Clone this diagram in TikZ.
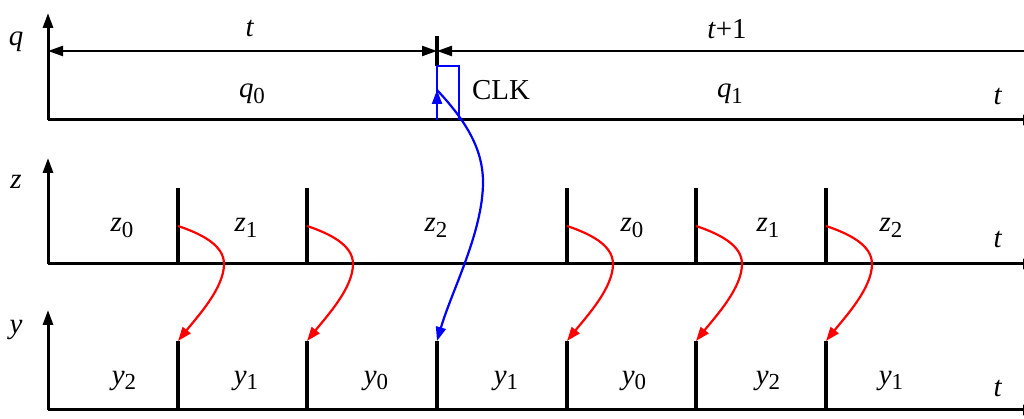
\documentclass[tikz,border=0pt]{standalone}
\usepackage{fontspec}
\setmainfont{Liberation Serif}
\usetikzlibrary{arrows.meta,calc}
\newcommand{\sig}[2]{\textit{#1}\raisebox{-0.4ex}{\fontsize{11.5}{12}\selectfont #2}}
\tikzset{
  axis/.style={line width=1.5bp,-{Triangle[length=7.5bp,width=5bp]}},
  tickline/.style={line width=1.6bp},
  dimline/.style={line width=1.1bp},
  redarr/.style={red,line width=1.1bp,-{Triangle[length=7bp,width=5bp]}},
  bluearr/.style={blue,line width=1.1bp,-{Triangle[length=7bp,width=5bp]}},
  lbl/.style={font=\fontsize{14.5}{16}\selectfont,inner sep=0pt}
}
\begin{document}
\begin{tikzpicture}[x=0.5bp,y=-0.5bp]
  \clip (0,0) rectangle (1024,419);

  % q axis
  \coordinate (qo) at (48,120);
  \coordinate (qy) at (48,13);
  \coordinate (qx) at (1038,120);
  \draw[axis] (qo) -- (qy);
  \draw[axis] (qo) -- (qx);
  \node[lbl] (lq) at (16,42) {\textit{q}};
  \node[lbl] (lqt) at (998,97) {\textit{t}};

  % interval arrows
  \coordinate (dl) at (48,51);
  \coordinate (dm) at (437,51);
  \coordinate (dr) at (1040,51);
  \draw[dimline,{Triangle[length=7.5bp,width=5bp]}-{Triangle[length=7.5bp,width=5bp]}] (dl) -- (dm);
  \draw[dimline,{Triangle[length=7.5bp,width=5bp]}-] (dm) -- (dr);
  \node[lbl] (lt) at (250,29) {\textit{t}};
  \node[lbl] (lt1) at (727,29) {\textit{t}+1};
  \node[lbl] (lq0) at (252,94) {\sig{q}{0}};
  \node[lbl] (lq1) at (730,94) {\sig{q}{1}};

  % clock pulse
  \coordinate (ck0) at (437,36);
  \coordinate (ck1) at (437,66);
  \coordinate (cb) at (437,120);
  \coordinate (ca) at (437,90);
  \coordinate (cr) at (459,120);
  \draw[tickline] (ck0) -- (ck1);
  \draw[blue,line width=1.3bp] (cb) -- (ck1) -| (cr);
  \draw[bluearr] (cb) -- (ca);
  \node[lbl] (lclk) at (501,90) {CLK};

  % z axis
  \coordinate (zo) at (48,264);
  \coordinate (zy) at (48,158);
  \coordinate (zx) at (1038,264);
  \draw[axis] (zo) -- (zy);
  \draw[axis] (zo) -- (zx);
  \node[lbl] (lz) at (16,182) {\textit{z}};
  \node[lbl] (lzt) at (998,240) {\textit{t}};
  \foreach \n/\x in {1/178,2/307,4/567,5/696,6/826}{
    \coordinate (zb\n) at (\x,264);
    \coordinate (zt\n) at (\x,188);
    \coordinate (zs\n) at (\x,226);
    \draw[tickline] (zb\n) -- (zt\n);
  }
  \node[lbl] (lz0a) at (122,228) {\sig{z}{0}};
  \node[lbl] (lz1a) at (246,228) {\sig{z}{1}};
  \node[lbl] (lz2a) at (436,228) {\sig{z}{2}};
  \node[lbl] (lz0b) at (632,228) {\sig{z}{0}};
  \node[lbl] (lz1b) at (768,228) {\sig{z}{1}};
  \node[lbl] (lz2b) at (891,228) {\sig{z}{2}};

  % y axis
  \coordinate (yo) at (48,410);
  \coordinate (yy) at (48,310);
  \coordinate (yx) at (1038,410);
  \draw[axis] (yo) -- (yy);
  \draw[axis] (yo) -- (yx);
  \node[lbl] (ly) at (16,330) {\textit{y}};
  \node[lbl] (lyt) at (998,389) {\textit{t}};
  \foreach \n/\x in {1/178,2/307,3/437,4/567,5/696,6/826}{
    \coordinate (yb\n) at (\x,410);
    \coordinate (yt\n) at (\x,341);
    \draw[tickline] (yb\n) -- (yt\n);
  }
  \node[lbl] (ly2a) at (124,381) {\sig{y}{2}};
  \node[lbl] (ly1a) at (246,381) {\sig{y}{1}};
  \node[lbl] (ly0a) at (376,381) {\sig{y}{0}};
  \node[lbl] (ly1b) at (506,381) {\sig{y}{1}};
  \node[lbl] (ly0b) at (634,381) {\sig{y}{0}};
  \node[lbl] (ly2b) at (768,381) {\sig{y}{2}};
  \node[lbl] (ly1c) at (891,381) {\sig{y}{1}};

  % z -> y (red), clock -> y (blue)
  \foreach \n in {1,2,4,5,6}{
    \draw[redarr] (zs\n) .. controls ($(zs\n)+(30,10)$) and ($(zs\n)+(46,22)$) .. ($(zs\n)+(46,38)$)
      .. controls ($(zs\n)+(46,62)$) and ($(zs\n)+(20,90)$) .. (yt\n);
  }
  \draw[bluearr] (ca) .. controls (467,122) and (483,150) .. (483,182)
    .. controls (483,232) and (452,290) .. (yt3);
\end{tikzpicture}
\end{document}
